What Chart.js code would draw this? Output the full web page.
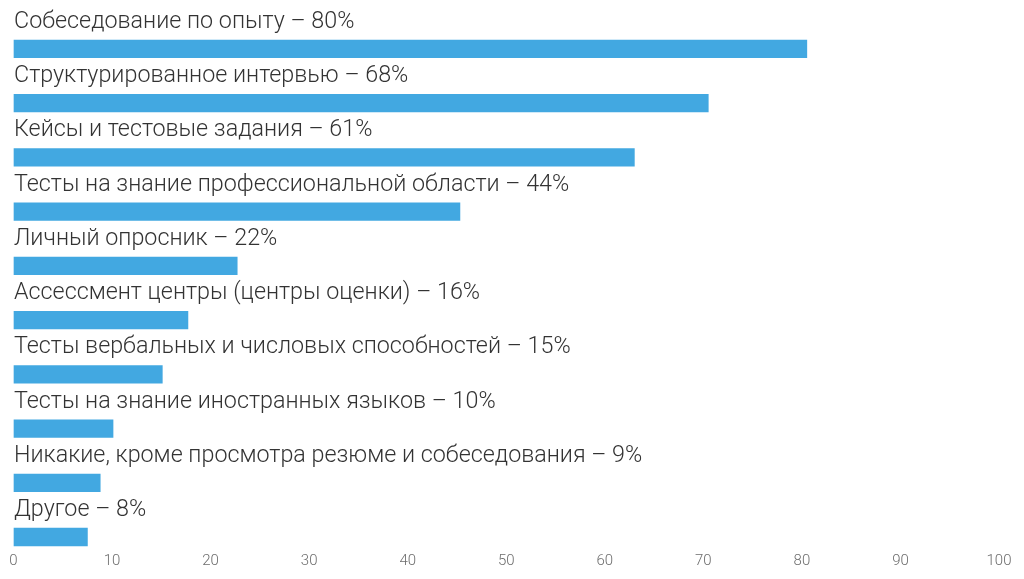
<!DOCTYPE html>
<html lang="ru">
<head>
<meta charset="utf-8">
<title>Методы оценки кандидатов</title>
<script src="https://cdn.jsdelivr.net/npm/chart.js@4"></script>
<style>
  html, body { margin: 0; padding: 0; background: #fff; }
  #wrap { width: 1024px; height: 579px; position: relative; }
</style>
</head>
<body>
<div id="wrap"><canvas id="myChart"></canvas></div>
<script>
"use strict";

// названия методов
const categories = [
    "Собеседование по опыту",
    "Структурированное интервью",
    "Кейсы и тестовые задания",
    "Тесты на знание профессиональной области",
    "Личный опросник",
    "Ассессмент центры (центры оценки)",
    "Тесты вербальных и числовых способностей",
    "Тесты на знание иностранных языков",
    "Никакие, кроме просмотра резюме и собеседования",
    "Другое"
];
// проценты, подписанные в тексте
const statedPercent = [80, 68, 61, 44, 22, 16, 15, 10, 9, 8];
// длина полос, как нарисовано
const barValues = [80.5, 70.5, 63.0, 45.3, 22.7, 17.7, 15.1, 10.1, 8.8, 7.5];
const xTicks = [0, 10, 20, 30, 40, 50, 60, 70, 80, 90, 100];

const labelFont = "300 23.3px Roboto, 'Noto Sans', sans-serif";

// подписи над полосами
const barLabels = {
    id: "barLabels",
    afterDatasetsDraw(chart) {
        const ctx = chart.ctx;
        const meta = chart.getDatasetMeta(0);
        ctx.save();
        ctx.font = labelFont;
        ctx.fillStyle = "#333333";
        ctx.textAlign = "left";
        ctx.textBaseline = "alphabetic";
        meta.data.forEach((bar, i) => {
            const text = categories[i] + " – " + statedPercent[i] + "%";
            ctx.fillText(text, bar.base, bar.y - bar.height / 2 - 12);
        });
        ctx.restore();
    }
};

function createChart() {
    const ctx = document.getElementById("myChart").getContext("2d");
    new Chart(ctx, {
        type: "bar",
        data: {
            labels: categories,
            datasets: [{
                data: barValues,
                backgroundColor: "#42a8e1",
                borderWidth: 0,
                barThickness: 17.6,
                clip: false
            }]
        },
        options: {
            indexAxis: "y",
            responsive: true,
            maintainAspectRatio: false,
            devicePixelRatio: 1,
            animation: false,
            layout: { padding: { top: 48.8, left: 13.5, right: 25, bottom: 9 } },
            plugins: {
                legend: { display: false },
                tooltip: { enabled: false }
            },
            scales: {
                y: {
                    display: false,
                    offset: false
                },
                x: {
                    min: 0,
                    max: 100,
                    grid: {
                        drawOnChartArea: false,
                        drawTicks: true,
                        tickLength: 15,
                        tickColor: "rgba(0,0,0,0)"
                    },
                    border: { display: false },
                    afterBuildTicks: scale => {
                        scale.ticks = xTicks.map(v => ({ value: v }));
                    },
                    ticks: {
                        padding: 0,
                        color: "#6d6d6d",
                        font: { family: "Roboto", size: 15, weight: 300 }
                    }
                }
            }
        },
        plugins: [barLabels]
    });
}

window.onload = createChart;
</script>
</body>
</html>
